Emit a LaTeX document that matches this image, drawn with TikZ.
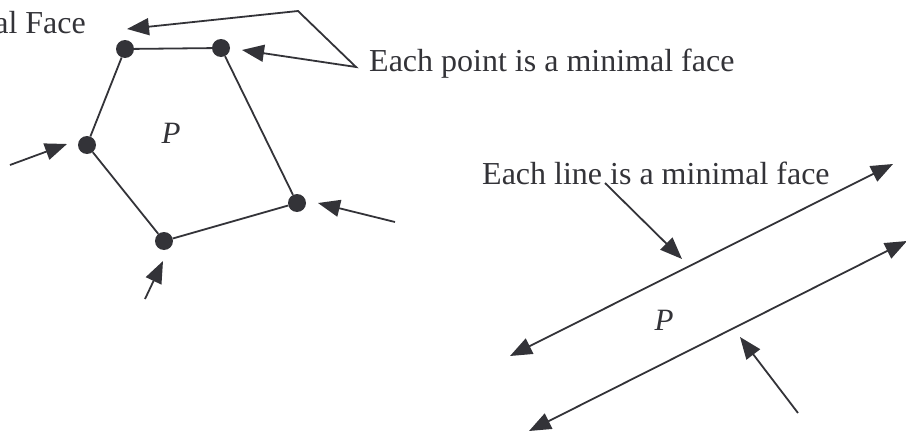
\documentclass[tikz,border=0pt]{standalone}
\usepackage{fontspec}
\setmainfont{Liberation Serif}
\usetikzlibrary{arrows.meta}
\definecolor{ink}{HTML}{333338}
\begin{document}
\begin{tikzpicture}[x=1pt,y=-1pt,
  ink line/.style={draw=ink, line width=1.8pt},
  arr/.style={ink line, -{Triangle[length=22pt,width=17pt]}},
  dbl/.style={ink line, {Triangle[length=22pt,width=17pt]}-{Triangle[length=22pt,width=17pt]}},
  vtx/.style={circle, fill=ink, minimum size=18pt, inner sep=0pt},
  lbl/.style={text=ink, font=\fontsize{32}{36}\selectfont, inner sep=0pt},
  plbl/.style={text=ink, font=\fontsize{31}{35}\selectfont\itshape, inner sep=0pt}]
\useasboundingbox (0,0) rectangle (906,431);
% polygon vertices
\node[vtx] (A) at (125,49) {};
\node[vtx] (B) at (221,48) {};
\node[vtx] (C) at (87,145) {};
\node[vtx] (D) at (164,241) {};
\node[vtx] (E) at (297,203) {};
\draw[ink line] (A) -- (B) -- (E) -- (D) -- (C) -- (A);
\node[plbl] (P1) at (171,133) {P};
% labels
\node[lbl, anchor=base east] (t1) at (86,33) {al Face};
\node[lbl, anchor=base west] (t2) at (369,71) {Each point is a minimal face};
\node[lbl, anchor=base west] (t3) at (482,184) {Each line is a minimal face};
% callout from "Each point" label
\coordinate (k1) at (298,11);
\coordinate (k2) at (356,67);
\coordinate (tipA) at (127,29);
\coordinate (tipB) at (242,50);
\draw[dbl] (tipA) -- (k1) -- (k2) -- (tipB);
% other vertex arrows
\coordinate (sC) at (10,165);
\coordinate (tC) at (67,144);
\draw[arr] (sC) -- (tC);
\coordinate (sD) at (145,299);
\coordinate (tD) at (163,261);
\draw[arr] (sD) -- (tD);
\coordinate (sE) at (395,222);
\coordinate (tE) at (318,203);
\draw[arr] (sE) -- (tE);
% right figure: two lines
\coordinate (L1a) at (510,356);
\coordinate (L1b) at (893,164);
\draw[dbl] (L1a) -- (L1b);
\coordinate (L2a) at (529,431);
\coordinate (L2b) at (907,241);
\draw[dbl] (L2a) -- (L2b);
\node[plbl] (P2) at (664,320) {P};
\coordinate (s3) at (605,183);
\coordinate (t3tip) at (682,259);
\draw[arr] (s3) -- (t3tip);
\coordinate (s4) at (798,413);
\coordinate (t4tip) at (740,337);
\draw[arr] (s4) -- (t4tip);
\end{tikzpicture}
\end{document}
